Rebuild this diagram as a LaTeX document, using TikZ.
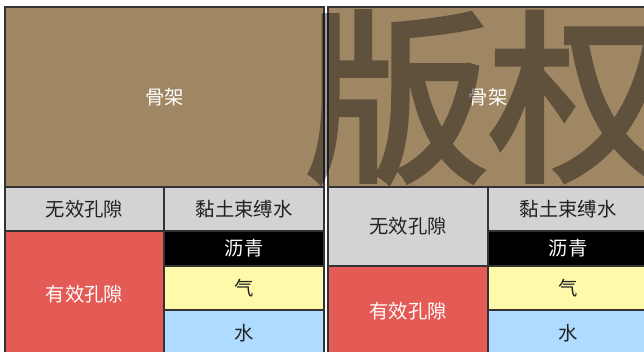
\documentclass[tikz,border=0pt]{standalone}
\usepackage{fontspec}
\newfontfamily\cjk{Noto Sans CJK SC}
\newfontfamily\wmfont[FakeBold=2.8]{Noto Sans CJK SC}
\definecolor{frame}{HTML}{333333}
\definecolor{soil}{HTML}{9F8764}
\definecolor{greyc}{HTML}{D3D3D3}
\definecolor{redc}{HTML}{E45A55}
\definecolor{yellowc}{HTML}{FFFAAA}
\definecolor{bluec}{HTML}{AEDBFF}
\definecolor{darktext}{HTML}{222222}
\tikzset{
  cellbox/.style={draw=frame, line width=0.8pt, inner sep=0pt, outer sep=0pt,
    font=\cjk\fontsize{14.5}{16}\selectfont}
}
\newcommand\mycell[8]{%
  \node[cellbox, fill=#6, text=#7,
    minimum width={(#4-#2)*0.75pt}, minimum height={(#5-#3)*0.75pt}]
    (#1) at ({(#2+#4)/2},{(#3+#5)/2}) {#8};}
\begin{document}
\begin{tikzpicture}[x=0.75pt,y=-0.75pt]
\useasboundingbox (0,0) rectangle (644,351);
\clip (0,0) rectangle (644,351);
\fill[white] (0,0) rectangle (644,351);
% left panel
\mycell{lskel}{5}{7}{324}{187}{soil}{white}{骨架}
\mycell{lineff}{5}{187}{164}{231}{greyc}{darktext}{无效孔隙}
\mycell{leff}{5}{231}{164}{357}{redc}{white}{有效孔隙}
\mycell{lclay}{164}{187}{324}{231}{greyc}{darktext}{黏土束缚水}
\mycell{lasph}{164}{231}{324}{266}{black}{white}{沥青}
\mycell{lgas}{164}{266}{324}{310}{yellowc}{darktext}{气}
\mycell{lwat}{164}{310}{324}{357}{bluec}{darktext}{水}
% right panel
\mycell{rskel}{328}{7}{648}{187}{soil}{white}{骨架}
\mycell{rineff}{328}{187}{488}{266}{greyc}{darktext}{无效孔隙}
\mycell{reff}{328}{266}{488}{357}{redc}{white}{有效孔隙}
\mycell{rclay}{488}{187}{648}{231}{greyc}{darktext}{黏土束缚水}
\mycell{rasph}{488}{231}{648}{266}{black}{white}{沥青}
\mycell{rgas}{488}{266}{648}{310}{yellowc}{darktext}{气}
\mycell{rwat}{488}{310}{648}{357}{bluec}{darktext}{水}
% watermark
\begin{scope}[transparency group, opacity=0.4]
\node[inner sep=0pt, text=black,
  font=\wmfont\fontsize{138}{138}\selectfont] (wm) at (489,97) {版权};
\end{scope}
\end{tikzpicture}
\end{document}
